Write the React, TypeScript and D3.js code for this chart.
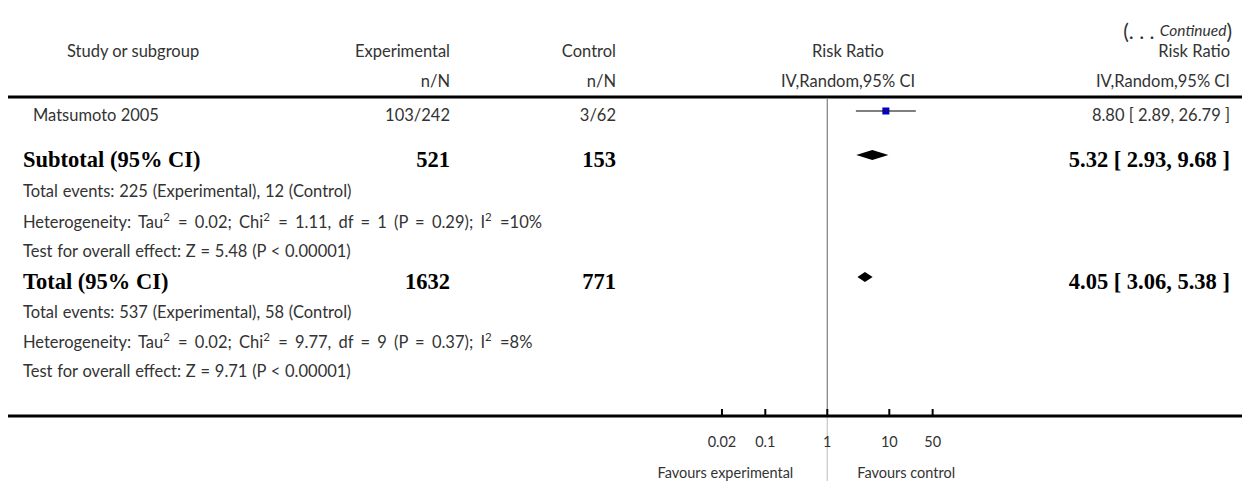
import React from "react";
import * as d3 from "d3";

const studyNames = ["Matsumoto 2005"];
const studyExp = ["103/242"];
const studyCtrl = ["3/62"];
const studyRR = [8.8];
const studyLo = [2.89];
const studyHi = [26.79];
const studyLabels = ["8.80 [ 2.89, 26.79 ]"];

const summaryNames = ["Subtotal (95% CI)", "Total (95% CI)"];
const summaryExp = ["521", "1632"];
const summaryCtrl = ["153", "771"];
const summaryRR = [5.32, 4.05];
const summaryLo = [2.93, 3.06];
const summaryHi = [9.68, 5.38];
const summaryLabels = ["5.32 [ 2.93, 9.68 ]", "4.05 [ 3.06, 5.38 ]"];

const subtotalNotes = [
  "Total events: 225 (Experimental), 12 (Control)",
  "Heterogeneity: Tau² = 0.02; Chi² = 1.11, df = 1 (P = 0.29); I² =10%",
  "Test for overall effect: Z = 5.48 (P < 0.00001)",
];
const totalNotes = [
  "Total events: 537 (Experimental), 58 (Control)",
  "Heterogeneity: Tau² = 0.02; Chi² = 9.77, df = 9 (P = 0.37); I² =8%",
  "Test for overall effect: Z = 9.71 (P < 0.00001)",
];

const tickValues = [0.02, 0.1, 1, 10, 50];
const tickLabels = ["0.02", "0.1", "1", "10", "50"];

const W = 1242;
const H = 481;
const SANS = "Lato, 'Open Sans', sans-serif";
const SERIF = "'Liberation Serif', 'DejaVu Serif', serif";
const TXT = "#333";

function NoteText({ s, x, y, style }: { s: string; x: number; y: number; style: any }) {
  const parts = s.split("²");
  return (
    <text x={x} y={y} dominantBaseline="central" style={style}>
      {parts.map((p, i) => (
        <React.Fragment key={i}>
          <tspan>{p}</tspan>
          {i < parts.length - 1 ? (
            <tspan fontSize={11.5} dy={-6}>2</tspan>
          ) : null}
          {i < parts.length - 1 ? <tspan dy={6}>{"\u200A"}</tspan> : null}
        </React.Fragment>
      ))}
    </text>
  );
}

export default function App() {
  const x = d3.scaleLog().domain([0.01, 100]).range([703.3, 951.3]);
  const x1 = x(1);

  const header1 = 51;
  const header2 = 81;
  const studyY = [115];
  const sumRows = [159, 281];
  const subNoteY = [191, 222, 251];
  const totNoteY = [312, 342, 371];
  const topLine = 97;
  const axisY = 416;

  const normal = { fontFamily: SANS, fontSize: 16.5, fill: TXT } as const;
  const bold = { fontFamily: SERIF, fontSize: 22.5, fontWeight: 700, fill: "#000" } as const;
  const small = { fontFamily: SANS, fontSize: 14.5, fill: TXT } as const;

  const diamond = (rr: number, lo: number, hi: number, cy: number) => {
    const pts: [number, number][] = [
      [x(lo), cy],
      [x(rr), cy - 5],
      [x(hi), cy],
      [x(rr), cy + 5],
    ];
    return d3.line()(pts.concat([pts[0]])) as string;
  };

  const noteStyle = (s: string) => ({
    ...normal,
    wordSpacing: s.startsWith("Heterogeneity") ? 3 : 0.5,
  });

  return (
    <div style={{ position: "absolute", left: 0, top: 0 }}>
      <svg width={W} height={H} xmlns="http://www.w3.org/2000/svg" style={{ display: "block", background: "#fff" }}>
        {/* continued */}
        <text x={1232} y={30} textAnchor="end" dominantBaseline="central" style={{ fontFamily: SANS, fill: TXT }}>
          <tspan fontSize={21}>(. . . </tspan>
          <tspan fontSize={15.5} fontStyle="italic">Continued</tspan>
          <tspan fontSize={21}>)</tspan>
        </text>

        {/* headers */}
        <g style={normal as any}>
          <text x={67} y={header1} dominantBaseline="central">Study or subgroup</text>
          <text x={450} y={header1} textAnchor="end" dominantBaseline="central">Experimental</text>
          <text x={616} y={header1} textAnchor="end" dominantBaseline="central">Control</text>
          <text x={848} y={header1} textAnchor="middle" dominantBaseline="central">Risk Ratio</text>
          <text x={1230} y={header1} textAnchor="end" dominantBaseline="central">Risk Ratio</text>
          <text x={450} y={header2} textAnchor="end" dominantBaseline="central">n/N</text>
          <text x={616} y={header2} textAnchor="end" dominantBaseline="central">n/N</text>
          <text x={848} y={header2} textAnchor="middle" dominantBaseline="central">IV,Random,95% CI</text>
          <text x={1230} y={header2} textAnchor="end" dominantBaseline="central">IV,Random,95% CI</text>
        </g>

        {/* lines */}
        <line x1={8} x2={W} y1={topLine} y2={topLine} stroke="#000" strokeWidth={3} />
        <line x1={x1} x2={x1} y1={topLine + 1.5} y2={axisY} stroke="#888" strokeWidth={1.3} />
        <line x1={x1} x2={x1} y1={axisY} y2={H} stroke="#ccc" strokeWidth={1.3} />
        <line x1={8} x2={W} y1={axisY} y2={axisY} stroke="#000" strokeWidth={3} />

        {/* study rows */}
        {studyNames.map((n, i) => {
          const cy = studyY[i];
          const my = cy - 4;
          return (
            <g key={n}>
              <text x={33} y={cy} dominantBaseline="central" style={normal as any}>{n}</text>
              <text x={450} y={cy} textAnchor="end" dominantBaseline="central" style={normal as any}>{studyExp[i]}</text>
              <text x={616} y={cy} textAnchor="end" dominantBaseline="central" style={normal as any}>{studyCtrl[i]}</text>
              <line x1={x(studyLo[i])} x2={x(studyHi[i])} y1={my} y2={my} stroke="#555" strokeWidth={1.5} />
              <rect x={x(studyRR[i]) - 3.5} y={my - 3.5} width={7} height={7} fill="#0000cc" />
              <line x1={x(studyRR[i]) - 3.5} x2={x(studyRR[i]) + 3.5} y1={my} y2={my} stroke="#222" strokeWidth={0.8} />
              <text x={1230} y={cy} textAnchor="end" dominantBaseline="central" style={normal as any}>{studyLabels[i]}</text>
            </g>
          );
        })}

        {/* summary rows */}
        {summaryNames.map((n, i) => {
          const cy = sumRows[i];
          return (
            <g key={n}>
              <text x={23} y={cy} dominantBaseline="central" style={bold as any}>{n}</text>
              <text x={450} y={cy} textAnchor="end" dominantBaseline="central" style={bold as any}>{summaryExp[i]}</text>
              <text x={616} y={cy} textAnchor="end" dominantBaseline="central" style={bold as any}>{summaryCtrl[i]}</text>
              <path d={diamond(summaryRR[i], summaryLo[i], summaryHi[i], cy - 4)} fill="#000" />
              <text x={1230} y={cy} textAnchor="end" dominantBaseline="central" style={bold as any}>{summaryLabels[i]}</text>
            </g>
          );
        })}

        {/* footnotes */}
        {subtotalNotes.map((s, i) => (
          <NoteText key={"s" + i} s={s} x={23} y={subNoteY[i]} style={noteStyle(s)} />
        ))}
        {totalNotes.map((s, i) => (
          <NoteText key={"t" + i} s={s} x={23} y={totNoteY[i]} style={noteStyle(s)} />
        ))}

        {/* axis ticks */}
        {tickValues.map((v, i) => (
          <g key={v}>
            <line x1={x(v)} x2={x(v)} y1={axisY - 7} y2={axisY} stroke="#000" strokeWidth={2} />
            <text x={x(v)} y={441} textAnchor="middle" dominantBaseline="central" style={small as any}>{tickLabels[i]}</text>
          </g>
        ))}
        <text x={x1 - 34} y={472} textAnchor="end" dominantBaseline="central" style={small as any}>Favours experimental</text>
        <text x={x1 + 30} y={472} dominantBaseline="central" style={small as any}>Favours control</text>
      </svg>
    </div>
  );
}
